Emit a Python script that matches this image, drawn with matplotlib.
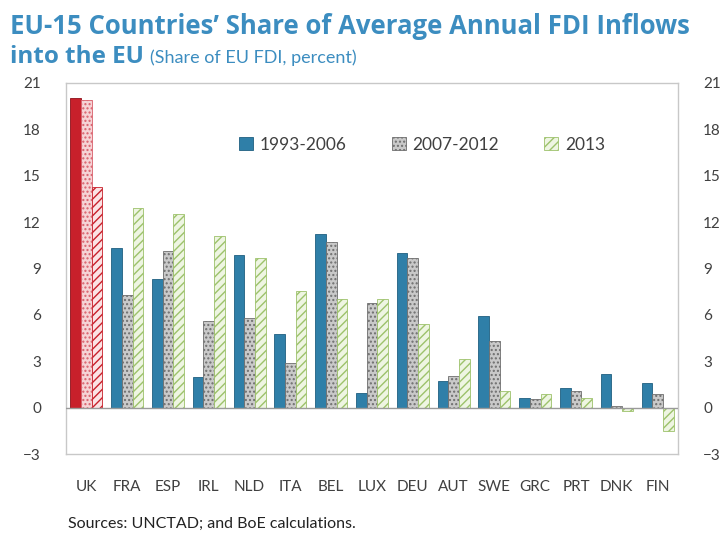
import matplotlib
matplotlib.use("Agg")
import matplotlib.pyplot as plt
from matplotlib.patches import Patch
import numpy as np

plt.rcParams['font.family'] = ['Lato', 'DejaVu Sans']
plt.rcParams['hatch.linewidth'] = 1.0

countries = ["UK", "FRA", "ESP", "IRL", "NLD", "ITA", "BEL", "LUX",
             "DEU", "AUT", "SWE", "GRC", "PRT", "DNK", "FIN"]
p1993_2006 = [20.05, 10.3, 8.3, 2.0, 9.9, 4.75, 11.2, 0.93, 10.0, 1.75, 5.95, 0.6, 1.3, 2.2, 1.6]
p2007_2012 = [19.9, 7.3, 10.1, 5.6, 5.8, 2.9, 10.7, 6.8, 9.7, 2.07, 4.3, 0.55, 1.08, 0.1, 0.85]
p2013 = [14.3, 12.9, 12.5, 11.1, 9.65, 7.55, 7.0, 7.0, 5.4, 3.15, 1.1, 0.85, 0.65, -0.2, -1.5]
series_names = ["1993-2006", "2007-2012", "2013"]
yticks = [-3, 0, 3, 6, 9, 12, 15, 18, 21]

blue = "#2F7FA8"
blue_edge = "#1F5F80"
grey_face = "#C9C9C9"
grey_edge = "#6E6E6E"
green_face = "#EEF5E2"
green_edge = "#9DC26B"
title_col = "#3C8DC0"
txt_col = "#404040"

fig = plt.figure(figsize=(7.22, 5.35), dpi=100)
ax = fig.add_axes([66/722, 1-454/535, (678-66)/722, (454-83)/535])

x = np.arange(len(countries))
w = 0.26

b1 = ax.bar(x - w, p1993_2006, w, color=blue, edgecolor=blue_edge, linewidth=0.6)
b2 = ax.bar(x, p2007_2012, w, color=grey_face, edgecolor=grey_edge, hatch="....", linewidth=0.6)
b3 = ax.bar(x + w, p2013, w, color=green_face, edgecolor=green_edge, hatch="////", linewidth=0.6)

# UK highlighted in red
b1[0].set_facecolor("#C8202B")
b1[0].set_edgecolor("#8E1019")
b2[0].set_facecolor("#F6D3D6")
b2[0].set_edgecolor("#D9606C")
b3[0].set_facecolor("#FBE3E5")
b3[0].set_edgecolor("#C8202B")

ax.axhline(0, color="#9A9A9A", linewidth=1.0, zorder=3)

ax.set_xlim(-0.5, len(countries) - 0.5)
ax.set_ylim(-3, 21)
ax.set_yticks(yticks)
ax.set_xticks(x)
ax.set_xticklabels(countries)
ax.tick_params(axis="x", length=0, pad=19, labelsize=11, colors=txt_col)
ax.tick_params(axis="y", length=0, pad=18, labelsize=11, colors=txt_col,
               labelright=True)

for s in ax.spines.values():
    s.set_color("#C8C8C8")
    s.set_linewidth(1.0)

handles = [Patch(facecolor=blue, edgecolor=blue_edge, linewidth=0.6),
           Patch(facecolor=grey_face, edgecolor=grey_edge, hatch="....", linewidth=0.6),
           Patch(facecolor=green_face, edgecolor=green_edge, hatch="////", linewidth=0.6)]
leg = ax.legend(handles, series_names, loc="upper left", bbox_to_anchor=(0.257, 0.897), ncol=3,
                frameon=False, fontsize=12.5, handlelength=0.8, handleheight=0.8,
                columnspacing=2.6, handletextpad=0.4)
for t in leg.get_texts():
    t.set_color(txt_col)

t1 = fig.text(10/722, 1-34/535, "EU-15 Countries\u2019 Share of Average Annual FDI Inflows",
              fontsize=18.5, fontweight="bold", color=title_col, va="baseline",
              family=["Open Sans", "DejaVu Sans"])
t2 = fig.text(10/722, 1-63/535, "into the EU", fontsize=17.5, fontweight="bold",
              color=title_col, va="baseline", family=["Open Sans", "DejaVu Sans"])
fig.canvas.draw()
bb = t2.get_window_extent()
fig.text((bb.x1 + 6) / 722, 1-63/535, "(Share of EU FDI, percent)", fontsize=13,
         color=title_col, va="baseline")

fig.text(68/722, 1-528/535, "Sources: UNCTAD; and BoE calculations.", fontsize=11.5,
         color="#222222", va="baseline")

fig.savefig("out.png", dpi=100)
